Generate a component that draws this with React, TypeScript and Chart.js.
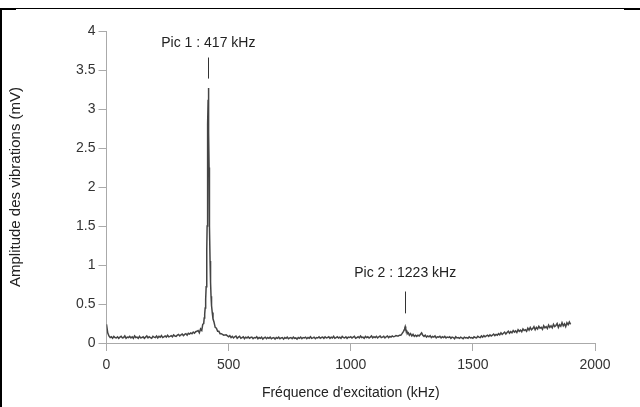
import React, { useEffect, useRef } from "react";
import { Chart, registerables } from "chart.js";

Chart.register(...registerables);

// Spectrum, one value every 5 kHz from 0 to 1900 kHz (one row = 100 kHz)
const FREQ_START = 0;
const FREQ_STEP = 5;
const amplitudes = [
  0.24, 0.13, 0.09, 0.07, 0.08, 0.06, 0.085, 0.07, 0.065, 0.08, 0.06, 0.075, 0.085, 0.065, 0.07, 0.09, 0.06, 0.075, 0.07, 0.085,
  0.065, 0.08, 0.06, 0.09, 0.07, 0.075, 0.06, 0.085, 0.065, 0.07, 0.08, 0.06, 0.075, 0.09, 0.065, 0.08, 0.07, 0.06, 0.085, 0.075,
  0.07, 0.09, 0.065, 0.085, 0.075, 0.095, 0.07, 0.08, 0.09, 0.075, 0.1, 0.08, 0.085, 0.095, 0.08, 0.105, 0.09, 0.085, 0.1, 0.11,
  0.09, 0.105, 0.115, 0.095, 0.11, 0.12, 0.1, 0.125, 0.115, 0.13, 0.12, 0.14, 0.125, 0.145, 0.15, 0.14, 0.16, 0.17, 0.19, 0.2,
  0.32, 0.45, 0.98, 2.8, 2.25, 1.05, 0.6, 0.39, 0.27, 0.2, 0.2, 0.14, 0.16, 0.11, 0.13, 0.1, 0.09, 0.1, 0.11, 0.085,
  0.08, 0.095, 0.07, 0.085, 0.065, 0.08, 0.09, 0.06, 0.075, 0.085, 0.06, 0.07, 0.08, 0.055, 0.075, 0.065, 0.08, 0.06, 0.07, 0.075,
  0.055, 0.07, 0.065, 0.08, 0.055, 0.07, 0.06, 0.075, 0.05, 0.065, 0.075, 0.055, 0.07, 0.06, 0.075, 0.055, 0.065, 0.07, 0.05, 0.07,
  0.06, 0.075, 0.055, 0.065, 0.07, 0.05, 0.07, 0.06, 0.075, 0.055, 0.065, 0.07, 0.055, 0.075, 0.06, 0.065, 0.05, 0.07, 0.06, 0.075,
  0.055, 0.07, 0.065, 0.075, 0.055, 0.07, 0.06, 0.08, 0.06, 0.065, 0.075, 0.055, 0.07, 0.065, 0.08, 0.06, 0.07, 0.075, 0.06, 0.08,
  0.065, 0.07, 0.08, 0.06, 0.075, 0.065, 0.085, 0.06, 0.07, 0.08, 0.065, 0.075, 0.06, 0.085, 0.07, 0.065, 0.08, 0.06, 0.075, 0.07,
  0.08, 0.065, 0.075, 0.085, 0.06, 0.07, 0.08, 0.065, 0.09, 0.07, 0.075, 0.06, 0.085, 0.07, 0.08, 0.065, 0.075, 0.09, 0.065, 0.08,
  0.07, 0.085, 0.065, 0.08, 0.09, 0.07, 0.075, 0.085, 0.065, 0.08, 0.09, 0.07, 0.085, 0.075, 0.09, 0.08, 0.085, 0.095, 0.09, 0.1,
  0.11, 0.13, 0.15, 0.17, 0.2, 0.17, 0.14, 0.12, 0.11, 0.12, 0.1, 0.09, 0.11, 0.095, 0.085, 0.1, 0.09, 0.11, 0.13, 0.1,
  0.085, 0.1, 0.075, 0.09, 0.08, 0.095, 0.07, 0.085, 0.075, 0.09, 0.065, 0.08, 0.075, 0.085, 0.065, 0.08, 0.07, 0.085, 0.065, 0.075,
  0.07, 0.08, 0.06, 0.075, 0.07, 0.055, 0.08, 0.065, 0.07, 0.06, 0.075, 0.065, 0.055, 0.075, 0.065, 0.07, 0.06, 0.08, 0.065, 0.07,
  0.06, 0.08, 0.07, 0.065, 0.085, 0.075, 0.07, 0.09, 0.075, 0.095, 0.08, 0.09, 0.1, 0.085, 0.105, 0.09, 0.1, 0.115, 0.095, 0.11,
  0.1, 0.12, 0.105, 0.13, 0.11, 0.125, 0.14, 0.115, 0.135, 0.15, 0.125, 0.145, 0.13, 0.16, 0.14, 0.155, 0.135, 0.17, 0.15, 0.165,
  0.145, 0.18, 0.16, 0.17, 0.15, 0.19, 0.165, 0.2, 0.17, 0.185, 0.21, 0.17, 0.2, 0.18, 0.215, 0.19, 0.2, 0.175, 0.22, 0.195,
  0.21, 0.185, 0.23, 0.2, 0.22, 0.195, 0.24, 0.21, 0.225, 0.25, 0.2, 0.235, 0.215, 0.26, 0.22, 0.245, 0.21, 0.26, 0.235, 0.27,
  0.24,
];

// Fine detail around resonance 1
const peak1Freqs = [
  375, 380, 385, 390, 394, 398, 400, 402, 404, 406, 408, 410, 411, 412, 413,
  414, 415, 416, 417, 418, 419, 420, 421, 422, 424, 426, 428, 430, 433, 436,
  440, 445, 450, 455, 460, 465, 470, 480, 490, 500,
];
const peak1Amps = [
  0.16, 0.13, 0.18, 0.16, 0.24, 0.25, 0.32, 0.37, 0.45, 0.56, 0.72, 0.98, 1.2, 1.5, 1.9,
  2.35, 2.8, 3.12, 3.27, 3.08, 2.7, 2.25, 1.85, 1.5, 1.05, 0.78, 0.6, 0.48, 0.39, 0.31,
  0.27, 0.2, 0.19, 0.15, 0.15, 0.12, 0.12, 0.1, 0.105, 0.08,
];

// Fine detail around resonance 2
const peak2Freqs = [
  1195, 1200, 1205, 1210, 1213, 1216, 1219, 1221, 1223, 1225, 1227, 1230, 1233,
  1236, 1240, 1245, 1250, 1255, 1260, 1265,
];
const peak2Amps = [
  0.09, 0.1, 0.1, 0.12, 0.12, 0.15, 0.17, 0.19, 0.21, 0.18, 0.16, 0.15, 0.12,
  0.13, 0.1, 0.12, 0.09, 0.11, 0.085, 0.1,
];

const peakLabels = ["Pic 1 : 417 kHz", "Pic 2 : 1223 kHz"];
const peakFreqs = [417, 1223];
const peakLabelLevels = [3.85, 0.9];
const peakMarkTop = [3.66, 0.66];
const peakMarkBottom = [3.39, 0.38];

const xTicks = [0, 500, 1000, 1500, 2000];
const yTicks = [0, 0.5, 1, 1.5, 2, 2.5, 3, 3.5, 4];

function buildPoints() {
  const pts: { x: number; y: number }[] = [];
  amplitudes.forEach((v, i) => {
    const f = FREQ_START + i * FREQ_STEP;
    if (f >= peak1Freqs[0] && f <= peak1Freqs[peak1Freqs.length - 1]) return;
    if (f >= peak2Freqs[0] && f <= peak2Freqs[peak2Freqs.length - 1]) return;
    pts.push({ x: f, y: v });
  });
  peak1Freqs.forEach((f, i) => pts.push({ x: f, y: peak1Amps[i] }));
  peak2Freqs.forEach((f, i) => pts.push({ x: f, y: peak2Amps[i] }));
  pts.sort((a, b) => a.x - b.x);
  return pts;
}

const FONT = "'Liberation Sans', Arial, sans-serif";

export default function App() {
  const ref = useRef<HTMLCanvasElement | null>(null);

  useEffect(() => {
    if (!ref.current) return;
    const annotations = {
      id: "peakNotes",
      afterDatasetsDraw(chart: any) {
        const ctx = chart.ctx;
        const xs = chart.scales.x;
        const ys = chart.scales.y;
        ctx.save();
        ctx.font = `14px ${FONT}`;
        ctx.fillStyle = "#222";
        ctx.textAlign = "center";
        ctx.textBaseline = "middle";
        ctx.strokeStyle = "#333";
        ctx.lineWidth = 1;
        peakLabels.forEach((t, i) => {
          const px = xs.getPixelForValue(peakFreqs[i]);
          ctx.fillText(t, px, ys.getPixelForValue(peakLabelLevels[i]));
          ctx.beginPath();
          const lx = Math.round(px) + 0.5;
          ctx.moveTo(lx, ys.getPixelForValue(peakMarkTop[i]));
          ctx.lineTo(lx, ys.getPixelForValue(peakMarkBottom[i]));
          ctx.stroke();
        });
        ctx.restore();
      },
      afterDraw(chart: any) {
        const ctx = chart.ctx;
        ctx.save();
        ctx.fillStyle = "#000";
        ctx.fillRect(0, 8, 640, 1);
        ctx.fillRect(0, 8, 16, 2);
        ctx.fillRect(624, 8, 16, 2);
        ctx.fillRect(0, 8, 2, 399);
        ctx.restore();
      },
    };

    const chart = new Chart(ref.current, {
      type: "line",
      data: {
        datasets: [
          {
            data: buildPoints(),
            borderColor: "#444",
            borderWidth: 1.5,
            pointRadius: 0,
            fill: false,
            tension: 0,
          },
        ],
      },
      options: {
        animation: false,
        responsive: false,
        devicePixelRatio: 1,
        layout: { padding: { top: 31, right: 45, left: 0, bottom: 0 } },
        plugins: { legend: { display: false }, tooltip: { enabled: false } },
        scales: {
          x: {
            type: "linear",
            min: 0,
            max: 2000,
            afterBuildTicks(scale: any) {
              scale.ticks = xTicks.map((v) => ({ value: v }));
            },
            afterFit(scale: any) {
              scale.height = 64;
            },
            grid: {
              drawOnChartArea: false,
              drawTicks: true,
              tickLength: 8,
              color: "#aaa",
            },
            border: { display: true, color: "#aaa", width: 1 },
            ticks: {
              color: "#333",
              font: { family: FONT, size: 14 },
              padding: 6,
              maxRotation: 0,
              callback: (v: any) => String(v),
            },
            title: {
              display: true,
              text: "Fréquence d'excitation (kHz)",
              color: "#222",
              font: { family: FONT, size: 14 },
              padding: { bottom: 5, top: 0 },
            },
          },
          y: {
            type: "linear",
            min: 0,
            max: 4,
            afterBuildTicks(scale: any) {
              scale.ticks = yTicks.map((v) => ({ value: v }));
            },
            afterFit(scale: any) {
              scale.width = 106.5;
            },
            grid: {
              drawOnChartArea: false,
              drawTicks: true,
              tickLength: 8,
              color: "#aaa",
            },
            border: { display: true, color: "#aaa", width: 1 },
            ticks: {
              color: "#333",
              font: { family: FONT, size: 14 },
              padding: 3,
              callback: (v: any) => String(v),
            },
            title: {
              display: true,
              text: "Amplitude des vibrations (mV)",
              color: "#222",
              font: { family: FONT, size: 15 },
              padding: { top: 7, bottom: 0 },
            },
          },
        },
      },
      plugins: [annotations],
    });
    return () => chart.destroy();
  }, []);

  return (
    <div style={{ position: "absolute", left: 0, top: 0, width: 640, height: 407, background: "#fff" }}>
      <canvas ref={ref} width={640} height={407} style={{ display: "block" }} />
    </div>
  );
}
